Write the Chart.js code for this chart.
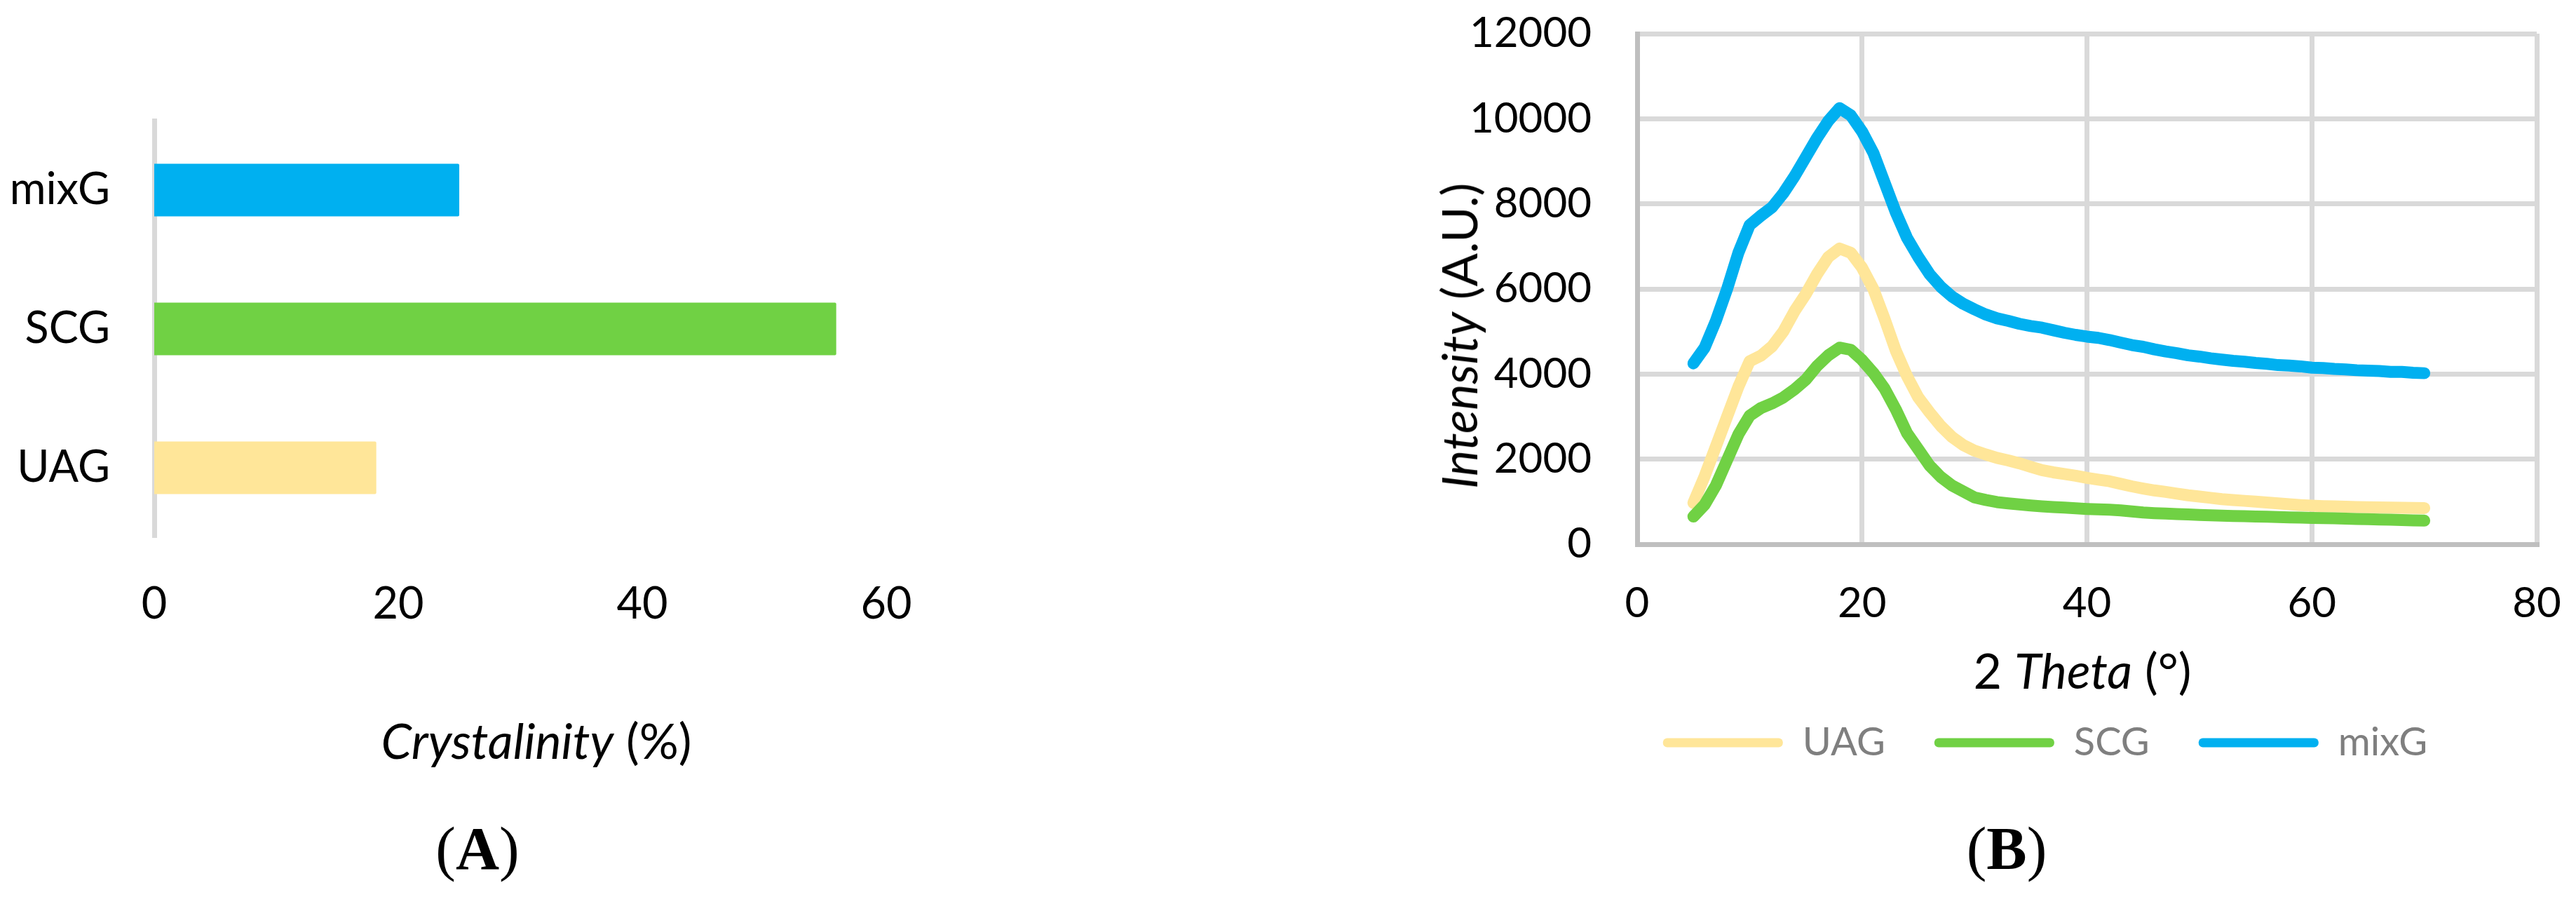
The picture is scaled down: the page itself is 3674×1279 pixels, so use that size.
<!DOCTYPE html>
<html>
<head>
<meta charset="utf-8">
<script src="https://cdn.jsdelivr.net/npm/chart.js"></script>
<style>
  html, body { margin: 0; padding: 0; background: #fff; overflow: hidden; }
  body { width: 3674px; height: 1279px; position: relative; font-family: Lato, sans-serif; }
  canvas { position: absolute; top: 0; }
  #crystChart { left: 0; }
  #xrdChart { left: 2060px; }
  .lbl { position: absolute; transform: translate(-50%, -50%); white-space: nowrap; line-height: 1; color: #000; }
  .axis { font-family: Lato, sans-serif; font-size: 70px; }
  .cap { font-family: "Liberation Serif", serif; font-size: 86px; }
  .cap b { font-weight: bold; }
</style>
</head>
<body>
<canvas id="crystChart" width="1500" height="1279"></canvas>
<canvas id="xrdChart" width="1614" height="1279"></canvas>

<div class="lbl axis" style="left:765px; top:1055px;"><i>Crystalinity</i> (%)</div>
<div class="lbl cap" style="left:681px; top:1210px;">(<b>A</b>)</div>

<div class="lbl axis" style="left:2970px; top:955px;">2 <i>Theta</i> (°)</div>
<div class="lbl axis" style="left:2080px; top:479px; transform: translate(-50%, -50%) rotate(-90deg);"><i>Intensity</i> (A.U.)</div>
<div class="lbl cap" style="left:2862px; top:1210px;">(<b>B</b>)</div>

<script>
// (A) crystallinity bars
const categories = ['UAG', 'SCG', 'mixG'];
const crystallinity = [18.2, 55.9, 25.0];
const seriesColors = ['#ffe699', '#70d144', '#00b0f0'];
const crystTicks = [0, 20, 40, 60];

// (B) XRD patterns, every degree
const theta = [5, 6, 7, 8, 9, 10, 11, 12, 13, 14, 15, 16, 17, 18, 19, 20,
  21, 22, 23, 24, 25, 26, 27, 28, 29, 30, 31, 32, 33, 34, 35, 36, 37, 38,
  39, 40, 41, 42, 43, 44, 45, 46, 47, 48, 49, 50, 51, 52, 53, 54, 55, 56,
  57, 58, 59, 60, 61, 62, 63, 64, 65, 66, 67, 68, 69, 70];
const uag = [970, 1600, 2300, 3000, 3700, 4300, 4430, 4650, 5000, 5480, 5880,
  6350, 6750, 6950, 6850, 6500, 6000, 5300, 4550, 3950, 3450, 3100, 2780,
  2520, 2330, 2200, 2110, 2030, 1970, 1900, 1820, 1740, 1690, 1650, 1610,
  1560, 1520, 1480, 1420, 1360, 1310, 1265, 1230, 1190, 1150, 1120, 1090,
  1060, 1040, 1020, 1000, 980, 960, 940, 920, 905, 895, 890, 880, 875, 870,
  865, 860, 858, 855, 850];
const scg = [650, 930, 1380, 1980, 2580, 3020, 3200, 3310, 3450, 3640, 3870,
  4190, 4440, 4620, 4570, 4330, 4030, 3660, 3170, 2610, 2230, 1850, 1580,
  1380, 1240, 1100, 1040, 990, 960, 935, 910, 890, 875, 860, 845, 830, 820,
  810, 795, 770, 745, 730, 720, 710, 700, 690, 680, 672, 665, 658, 650, 645,
  638, 632, 625, 620, 615, 608, 600, 595, 590, 583, 575, 568, 560, 555];
const mixg = [4250, 4620, 5250, 6000, 6850, 7500, 7720, 7920, 8250, 8650, 9100,
  9550, 9950, 10250, 10080, 9700, 9200, 8500, 7800, 7200, 6750, 6350, 6050,
  5820, 5650, 5520, 5400, 5310, 5250, 5180, 5130, 5090, 5030, 4970, 4920,
  4880, 4850, 4800, 4740, 4680, 4640, 4580, 4530, 4490, 4440, 4410, 4370,
  4340, 4310, 4290, 4260, 4240, 4210, 4200, 4180, 4150, 4140, 4120, 4110,
  4090, 4080, 4070, 4050, 4050, 4030, 4020];
const thetaTicks = [0, 20, 40, 60, 80];
const intensityTicks = [0, 2000, 4000, 6000, 8000, 10000, 12000];

const useTicks = (values) => (scale) => {
  scale.ticks = values.map((v) => ({ value: v }));
};
const plain = (v) => String(v);

// fix a scale's thickness and drop the label overhang padding
const fixSize = (prop, size) => (scale) => {
  scale[prop] = size;
  scale.paddingTop = scale.paddingBottom = 0;
  scale.paddingLeft = scale.paddingRight = 0;
};

new Chart(document.getElementById('crystChart'), {
  type: 'bar',
  data: {
    labels: categories,
    datasets: [{
      data: crystallinity,
      backgroundColor: seriesColors,
      barPercentage: 0.38,
      categoryPercentage: 1,
      borderRadius: 2,
      borderSkipped: 'start'
    }]
  },
  options: {
    indexAxis: 'y',
    responsive: false,
    animation: false,
    events: [],
    layout: { padding: { left: 0, top: 172, right: 236, bottom: 0 } },
    plugins: { legend: { display: false }, tooltip: { enabled: false } },
    scales: {
      x: {
        min: 0, max: 60,
        afterBuildTicks: useTicks(crystTicks),
        afterFit: fixSize('height', 513),
        grid: { display: false, drawTicks: false },
        border: { display: false },
        ticks: { color: '#000', padding: 58, callback: plain, font: { family: 'Lato', size: 63 } }
      },
      y: {
        reverse: true,
        afterFit: fixSize('width', 220),
        grid: { display: false, drawTicks: false },
        border: { display: true, color: '#d9d9d9', width: 7 },
        ticks: { color: '#000', padding: 63, font: { family: 'Lato', size: 63 } }
      }
    }
  }
});

const toPoints = (arr) => theta.map((t, i) => ({ x: t, y: arr[i] }));

const lineSet = (label, arr, color, order) => ({
  label: label,
  data: toPoints(arr),
  borderColor: color,
  backgroundColor: color,
  borderWidth: 17,
  borderCapStyle: 'round',
  borderJoinStyle: 'round',
  pointRadius: 0,
  tension: 0,
  order: order
});

// Excel centres this legend a bit left of the plot, move the box over
const legendNudge = {
  id: 'legendNudge',
  afterLayout(chart) {
    chart.legend.left += 78;
    chart.legend.right += 78;
  }
};

new Chart(document.getElementById('xrdChart'), {
  type: 'line',
  data: {
    datasets: [
      lineSet('UAG', uag, seriesColors[0], 3),
      lineSet('SCG', scg, seriesColors[1], 2),
      lineSet('mixG', mixg, seriesColors[2], 1)
    ]
  },
  plugins: [legendNudge],
  options: {
    responsive: false,
    animation: false,
    events: [],
    layout: { padding: { left: 0, top: 48, right: 56, bottom: 182 } },
    plugins: {
      tooltip: { enabled: false },
      legend: {
        position: 'bottom',
        labels: {
          color: '#7f7f7f',
          font: { family: 'Lato', size: 56 },
          boxWidth: 171,
          boxHeight: 13,
          padding: 70,
          useBorderRadius: true,
          borderRadius: 6,
          sort: (a, b) => a.datasetIndex - b.datasetIndex,
          generateLabels: (chart) =>
            Chart.defaults.plugins.legend.labels.generateLabels(chart).map((l) => {
              l.fillStyle = l.strokeStyle;
              l.lineWidth = 0;
              return l;
            })
        }
      }
    },
    scales: {
      x: {
        type: 'linear',
        min: 0, max: 80,
        afterBuildTicks: useTicks(thetaTicks),
        afterFit: fixSize('height', 185),
        grid: { color: '#d9d9d9', lineWidth: 7, drawTicks: false },
        border: { color: '#bfbfbf', width: 7 },
        ticks: { color: '#000', padding: 49, callback: plain, font: { family: 'Lato', size: 60 } }
      },
      y: {
        min: 0, max: 12000,
        afterBuildTicks: useTicks(intensityTicks),
        afterFit: fixSize('width', 275),
        grid: { color: '#d9d9d9', lineWidth: 7, drawTicks: false },
        border: { color: '#bfbfbf', width: 7 },
        ticks: { color: '#000', padding: 65, callback: plain, font: { family: 'Lato', size: 60 } }
      }
    }
  }
});
</script>
</body>
</html>
